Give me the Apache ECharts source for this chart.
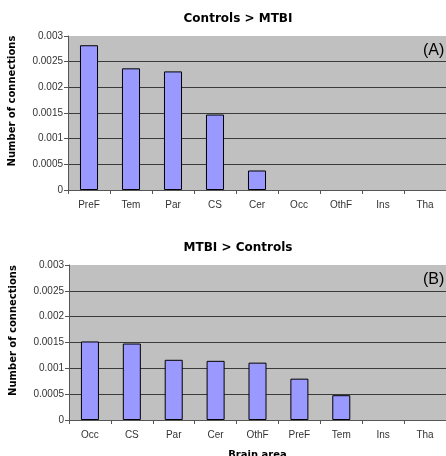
<!DOCTYPE html>
<html><head><meta charset="utf-8">
<script src="https://cdn.jsdelivr.net/npm/echarts@6/dist/echarts.min.js"></script>
<style>html,body{margin:0;padding:0;background:#fff}#c{width:446px;height:456px}</style>
</head><body><div id="c"></div>
<script>
const categoriesA = ['PreF','Tem','Par','CS','Cer','Occ','OthF','Ins','Tha'];
const valuesA = [0.00282, 0.00237, 0.00231, 0.00147, 0.00038, 0, 0, 0, 0];
const categoriesB = ['Occ','CS','Par','Cer','OthF','PreF','Tem','Ins','Tha'];
const valuesB = [0.00152, 0.00148, 0.001165, 0.001145, 0.00111, 0.0008, 0.00048, 0, 0];
const titleA = 'Controls > MTBI';
const titleB = 'MTBI > Controls';
const yName = 'Number of connections';
const xName = 'Brain area';

const chart = echarts.init(document.getElementById('c'), null, {renderer:'canvas'});
const fmt = v => v === 0 ? '0' : String(+v.toFixed(4));
function yAxis(gi){
  return {
    type:'value', gridIndex:gi, min:0, max:0.003, interval:0.0005,
    name: yName, nameLocation:'middle', nameGap:51,
    nameTextStyle:{fontFamily:'DejaVu Sans', fontWeight:'bold', fontSize:10, color:'#000', padding:[0,0,0,24]},
    axisLine:{show:true, lineStyle:{color:'#555', width:1}},
    axisTick:{show:true, length:4, lineStyle:{color:'#555'}},
    axisLabel:{margin:5, fontFamily:'Liberation Sans', fontSize:10, color:'#333', formatter: fmt},
    splitLine:{show:true, lineStyle:{color:['#3a3a3a','#3a3a3a','#3a3a3a','#3a3a3a','#3a3a3a','#3a3a3a','rgba(0,0,0,0)'], width:1}}
  };
}
function xAxis(gi, cats, withName){
  const a = {
    type:'category', gridIndex:gi, data:cats, boundaryGap:true,
    axisLine:{show:true, lineStyle:{color:'#555', width:1}},
    axisTick:{show:true, length:4, alignWithLabel:false, lineStyle:{color:'#555'}},
    axisLabel:{margin:10, fontFamily:'Liberation Sans', fontSize:10, color:'#333', interval:0},
    splitLine:{show:false}
  };
  if (withName){
    a.name = xName; a.nameLocation='middle'; a.nameGap=30;
    a.nameTextStyle={fontFamily:'DejaVu Sans', fontWeight:'bold', fontSize:10, color:'#000'};
  }
  return a;
}
const barStyle = {color:'#9999ff', borderColor:'#000', borderWidth:1};
const toData = vals => vals.map(v => v === 0 ? {value:v, itemStyle:{borderWidth:0}} : v);
chart.setOption({
  animation:false,
  backgroundColor:'#fff',
  title:[
    {text:titleA, left:233, top:8, textAlign:'center', textStyle:{fontFamily:'DejaVu Sans', fontWeight:'bold', fontSize:12, color:'#000'}},
    {text:titleB, left:233, top:237, textAlign:'center', textStyle:{fontFamily:'DejaVu Sans', fontWeight:'bold', fontSize:12, color:'#000'}},
    {text:'(A)', left:423, top:43, padding:0, textStyle:{fontFamily:'Liberation Sans', fontWeight:'normal', fontSize:16, color:'#000'}},
    {text:'(B)', left:423, top:272, padding:0, textStyle:{fontFamily:'Liberation Sans', fontWeight:'normal', fontSize:16, color:'#000'}}
  ],
  grid:[
    {left:68, top:36, right:0, height:154, show:true, backgroundColor:'#c0c0c0', borderWidth:0, outerBoundsMode:'none', containLabel:false},
    {left:69, top:265, right:0, height:155, show:true, backgroundColor:'#c0c0c0', borderWidth:0, outerBoundsMode:'none', containLabel:false}
  ],
  xAxis:[xAxis(0, categoriesA, false), xAxis(1, categoriesB, true)],
  yAxis:[yAxis(0), yAxis(1)],
  series:[
    {type:'bar', xAxisIndex:0, yAxisIndex:0, data:toData(valuesA), barWidth:'43%', itemStyle:barStyle},
    {type:'bar', xAxisIndex:1, yAxisIndex:1, data:toData(valuesB), barWidth:'43%', itemStyle:barStyle}
  ]
});
</script></body></html>
